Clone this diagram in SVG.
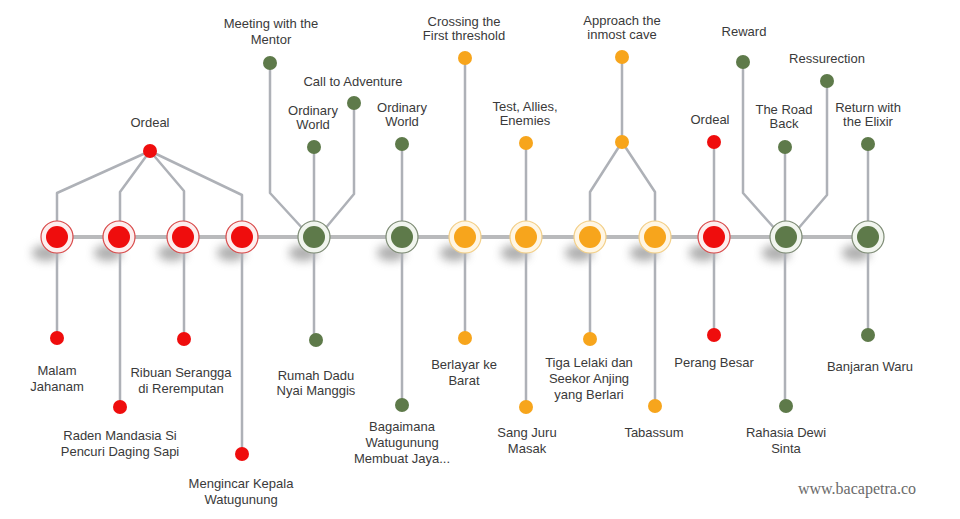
<svg xmlns="http://www.w3.org/2000/svg" width="960" height="519" viewBox="0 0 960 519">
<defs>
<filter id="blur" x="-100%" y="-100%" width="300%" height="300%"><feGaussianBlur stdDeviation="5"/></filter>
</defs>
<style>
.ln{fill:none;stroke:#aeb1b7;stroke-width:2.5;stroke-linejoin:round}
.main{fill:none;stroke:#b9babc;stroke-width:4}
.t{font-family:"Liberation Sans",Arial,sans-serif;font-size:13px;fill:#3a3a3a;text-anchor:middle}
.wm{font-family:"Liberation Serif","Times New Roman",serif;font-size:16px;fill:#6a6a6a;text-anchor:middle}
.r{fill:#ef0d0d}.g{fill:#5e7a4a}.o{fill:#f7a51c}
.rr{fill:#fdeeee;stroke:#d94a4a;stroke-width:1.2}
.gr{fill:#f1f5ee;stroke:#7d8b74;stroke-width:1.2}
.orr{fill:#fff6e4;stroke:#f3cf87;stroke-width:1.2}
.sh{fill:#777777;opacity:0.6;filter:url(#blur)}
</style>
<rect width="960" height="519" fill="#ffffff"/>
<g id="shadows">
<ellipse class="sh" cx="46" cy="253" rx="14" ry="8"/>
<ellipse class="sh" cx="108" cy="253" rx="14" ry="8"/>
<ellipse class="sh" cx="172" cy="253" rx="14" ry="8"/>
<ellipse class="sh" cx="231" cy="253" rx="14" ry="8"/>
<ellipse class="sh" cx="303" cy="253" rx="14" ry="8"/>
<ellipse class="sh" cx="391" cy="253" rx="14" ry="8"/>
<ellipse class="sh" cx="454" cy="253" rx="14" ry="8"/>
<ellipse class="sh" cx="515" cy="253" rx="14" ry="8"/>
<ellipse class="sh" cx="579" cy="253" rx="14" ry="8"/>
<ellipse class="sh" cx="644" cy="253" rx="14" ry="8"/>
<ellipse class="sh" cx="703" cy="253" rx="14" ry="8"/>
<ellipse class="sh" cx="776" cy="253" rx="14" ry="8"/>
<ellipse class="sh" cx="856" cy="253" rx="14" ry="8"/>
</g>
<g id="connectors">
<path class="main" d="M57 237H867"/>
<path class="ln" d="M150 151L57 193V338M150 151L120 192V407M150 151L184 191V339M150 151L242 195V454"/>
<path class="ln" d="M314 147V340M270 63V193L304 230M354 103V194L324 230"/>
<path class="ln" d="M402 144V405"/>
<path class="ln" d="M465 58V338"/>
<path class="ln" d="M526 143V407"/>
<path class="ln" d="M622 57V142M622 142L590 192V339M622 142L655 192V406"/>
<path class="ln" d="M714 142V335"/>
<path class="ln" d="M785 147V406M743 62V193L776 230M827 81V195L797 230"/>
<path class="ln" d="M868 144V335"/>
</g>
<g id="n1"><circle class="rr" cx="57" cy="237" r="16"/><circle class="r" cx="57" cy="237" r="11"/><circle class="r" cx="57" cy="338" r="7"/><text class="t" x="57" y="375">Malam</text><text class="t" x="57" y="391">Jahanam</text></g>
<g id="n2"><circle class="rr" cx="119" cy="237" r="16"/><circle class="r" cx="119" cy="237" r="11"/><circle class="r" cx="120" cy="407" r="7"/><text class="t" x="120" y="440">Raden Mandasia Si</text><text class="t" x="120" y="456">Pencuri Daging Sapi</text></g>
<g id="n3"><circle class="rr" cx="183" cy="237" r="16"/><circle class="r" cx="183" cy="237" r="11"/><circle class="r" cx="184" cy="339" r="7"/><text class="t" x="181" y="377">Ribuan Serangga</text><text class="t" x="181" y="393">di Reremputan</text></g>
<g id="n4"><circle class="rr" cx="242" cy="237" r="16"/><circle class="r" cx="242" cy="237" r="11"/><circle class="r" cx="242" cy="454" r="7"/><text class="t" x="241" y="488">Mengincar Kepala</text><text class="t" x="241" y="504">Watugunung</text></g>
<g id="ordeal-top"><circle class="r" cx="150" cy="151" r="7"/><text class="t" x="150" y="127">Ordeal</text></g>
<g id="n5"><circle class="gr" cx="314" cy="237" r="16"/><circle class="g" cx="314" cy="237" r="11"/>
<circle class="g" cx="314" cy="147" r="7"/><text class="t" x="313" y="115">Ordinary</text><text class="t" x="313" y="129">World</text>
<circle class="g" cx="270" cy="63" r="7"/><text class="t" x="271" y="28">Meeting with the</text><text class="t" x="271" y="44">Mentor</text>
<circle class="g" cx="354" cy="103" r="7"/><text class="t" x="353" y="86">Call to Adventure</text>
<circle class="g" cx="316" cy="340" r="7"/><text class="t" x="316" y="380">Rumah Dadu</text><text class="t" x="316" y="395">Nyai Manggis</text></g>
<g id="n6"><circle class="gr" cx="402" cy="237" r="16"/><circle class="g" cx="402" cy="237" r="11"/>
<circle class="g" cx="402" cy="144" r="7"/><text class="t" x="402" y="112">Ordinary</text><text class="t" x="402" y="126">World</text>
<circle class="g" cx="402" cy="405" r="7"/><text class="t" x="402" y="431">Bagaimana</text><text class="t" x="402" y="447">Watugunung</text><text class="t" x="402" y="463">Membuat Jaya...</text></g>
<g id="n7"><circle class="orr" cx="465" cy="237" r="16"/><circle class="o" cx="465" cy="237" r="11"/>
<circle class="o" cx="465" cy="58" r="7"/><text class="t" x="464" y="26">Crossing the</text><text class="t" x="464" y="40">First threshold</text>
<circle class="o" cx="465" cy="338" r="7"/><text class="t" x="464" y="369">Berlayar ke</text><text class="t" x="464" y="385">Barat</text></g>
<g id="n8"><circle class="orr" cx="526" cy="237" r="16"/><circle class="o" cx="526" cy="237" r="11"/>
<circle class="o" cx="526" cy="143" r="7"/><text class="t" x="525" y="111">Test, Allies,</text><text class="t" x="525" y="125">Enemies</text>
<circle class="o" cx="526" cy="407" r="7"/><text class="t" x="527" y="437">Sang Juru</text><text class="t" x="527" y="453">Masak</text></g>
<g id="approach"><circle class="o" cx="622" cy="57" r="7"/><circle class="o" cx="622" cy="142" r="7"/><text class="t" x="622" y="25">Approach the</text><text class="t" x="622" y="39">inmost cave</text></g>
<g id="n9"><circle class="orr" cx="590" cy="237" r="16"/><circle class="o" cx="590" cy="237" r="11"/>
<circle class="o" cx="590" cy="339" r="7"/><text class="t" x="589" y="367">Tiga Lelaki dan</text><text class="t" x="589" y="383">Seekor Anjing</text><text class="t" x="589" y="399">yang Berlari</text></g>
<g id="n10"><circle class="orr" cx="655" cy="237" r="16"/><circle class="o" cx="655" cy="237" r="11"/>
<circle class="o" cx="655" cy="406" r="7"/><text class="t" x="654" y="437">Tabassum</text></g>
<g id="n11"><circle class="rr" cx="714" cy="237" r="16"/><circle class="r" cx="714" cy="237" r="11"/>
<circle class="r" cx="714" cy="142" r="7"/><text class="t" x="710" y="124">Ordeal</text>
<circle class="r" cx="714" cy="335" r="7"/><text class="t" x="714" y="367">Perang Besar</text></g>
<g id="n12"><circle class="gr" cx="786" cy="237" r="16"/><circle class="g" cx="786" cy="237" r="11"/>
<circle class="g" cx="785" cy="147" r="7"/><text class="t" x="784" y="114">The Road</text><text class="t" x="784" y="128">Back</text>
<circle class="g" cx="743" cy="62" r="7"/><text class="t" x="744" y="36">Reward</text>
<circle class="g" cx="827" cy="81" r="7"/><text class="t" x="827" y="63">Ressurection</text>
<circle class="g" cx="786" cy="406" r="7"/><text class="t" x="786" y="437">Rahasia Dewi</text><text class="t" x="786" y="453">Sinta</text></g>
<g id="n13"><circle class="gr" cx="868" cy="237" r="16"/><circle class="g" cx="868" cy="237" r="11"/>
<circle class="g" cx="868" cy="144" r="7"/><text class="t" x="868" y="112">Return with</text><text class="t" x="868" y="126">the Elixir</text>
<circle class="g" cx="868" cy="335" r="7"/><text class="t" x="870" y="371">Banjaran Waru</text></g>
<text class="wm" x="857" y="494">www.bacapetra.co</text>
</svg>
